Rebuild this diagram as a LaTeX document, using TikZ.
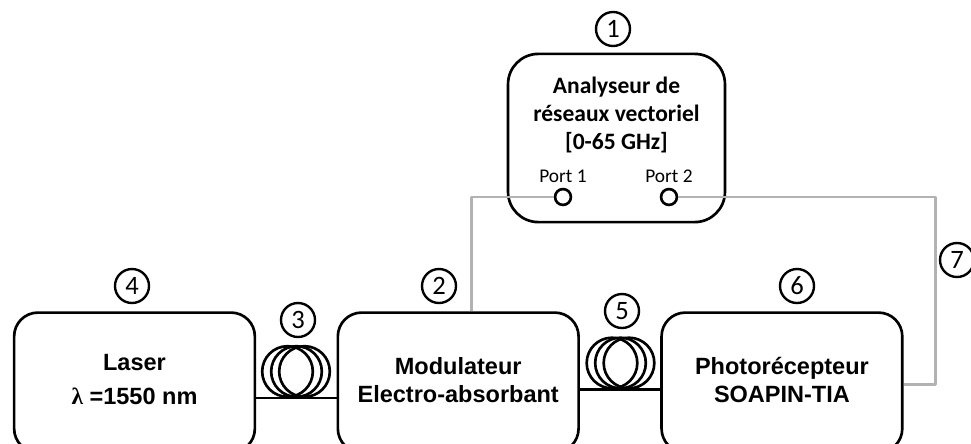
\documentclass[tikz,border=0pt]{standalone}
\usepackage{fontspec}
\setmainfont{Liberation Sans}
\newfontfamily\calibri{Carlito}
\newfontfamily\greekserif{Liberation Serif}
\usepackage{xcolor}
\definecolor{LinkGrey}{HTML}{B2B2B2}
\usetikzlibrary{positioning}

\begin{document}
\begin{tikzpicture}[
  x=0.2646mm, y=-0.2646mm,
  node distance=3mm,
  box/.style={draw=black, line width=2pt, rounded corners=6.3mm,
              align=center, minimum width=63.7mm, minimum height=37mm, text depth=1.5mm,
              font=\bfseries\fontsize{17.7}{21}\selectfont},
  numtag/.style={draw=black, circle, line width=1.8pt, minimum size=9mm, inner sep=0pt,
                 font=\calibri\fontsize{20}{20}\selectfont},
  coil/.style={draw=black, circle, line width=2pt, minimum size=13.4mm, inner sep=0pt},
  porthole/.style={draw=black, circle, line width=2pt, fill=white, minimum size=4.2mm, inner sep=0pt},
  portlabel/.style={font=\calibri\fontsize{14.6}{14.6}\selectfont, inner sep=0pt},
  fibre/.style={draw=black, line width=2pt},
  link/.style={draw=LinkGrey, line width=2.2pt, line join=round},
]
\useasboundingbox (0,0) rectangle (971,443);
% banc de mesure
\node[box] (laser) at (134.5,382.5) {Laser\\[1.6mm]{\greekserif λ} =1550 nm};
\node[box, right=21.25mm of laser] (modul) {Modulateur\\Electro-absorbant};
\node[box, right=21.25mm of modul] (photo) {Photorécepteur\\SOAPIN-TIA};
\node[box, minimum width=57.4mm, minimum height=44.5mm, rounded corners=8mm, text depth=0pt] (vna) at (616.5,138) {};
\node[align=center, inner sep=0pt, below=6.3mm of vna.north,
      font=\calibri\bfseries\fontsize{17.7}{21.3}\selectfont] (vnatext)
  {Analyseur de\\réseaux vectoriel\\{[0-65 GHz]}};
% ports
\node[porthole] (portA) at (563,197) {};
\node[porthole] (portB) at (669,197) {};
\node[portlabel, above=1.3mm of portA] (portAtext) {Port 1};
\node[portlabel, above=1.3mm of portB] (portBtext) {Port 2};
% bobines
\node[coil] (coilAa) at (287.5,371.5) {};
\node[coil] (coilAb) at (296.5,371.5) {};
\node[coil] (coilAc) at (304.5,371.5) {};
\node[coil] (coilBa) at (612,363) {};
\node[coil] (coilBb) at (620.5,363) {};
\node[coil] (coilBc) at (629,363) {};
\draw[fibre] (coilAb.south -| laser.east) -- (coilAb.south -| modul.west);
\draw[fibre] (coilBb.south -| modul.east) -- (coilBb.south -| photo.west);
% liaisons RF
\draw[link] (portA.west) -| ([xshift=3.45mm]modul.north);
\draw[link] (portB.east) -| ([xshift=8.5mm,yshift=-0.6mm]photo.east) -- ([yshift=-0.6mm]photo.east);
% numeros
\node[numtag] (tagA) at (613,29) {1};
\node[numtag] (tagB) at (439,286) {2};
\node[numtag] (tagC) at (298,320) {3};
\node[numtag] (tagD) at (132,286) {4};
\node[numtag] (tagE) at (622,311) {5};
\node[numtag] (tagF) at (797,286) {6};
\node[numtag] (tagG) at (957,260) {7};
\end{tikzpicture}
\end{document}
